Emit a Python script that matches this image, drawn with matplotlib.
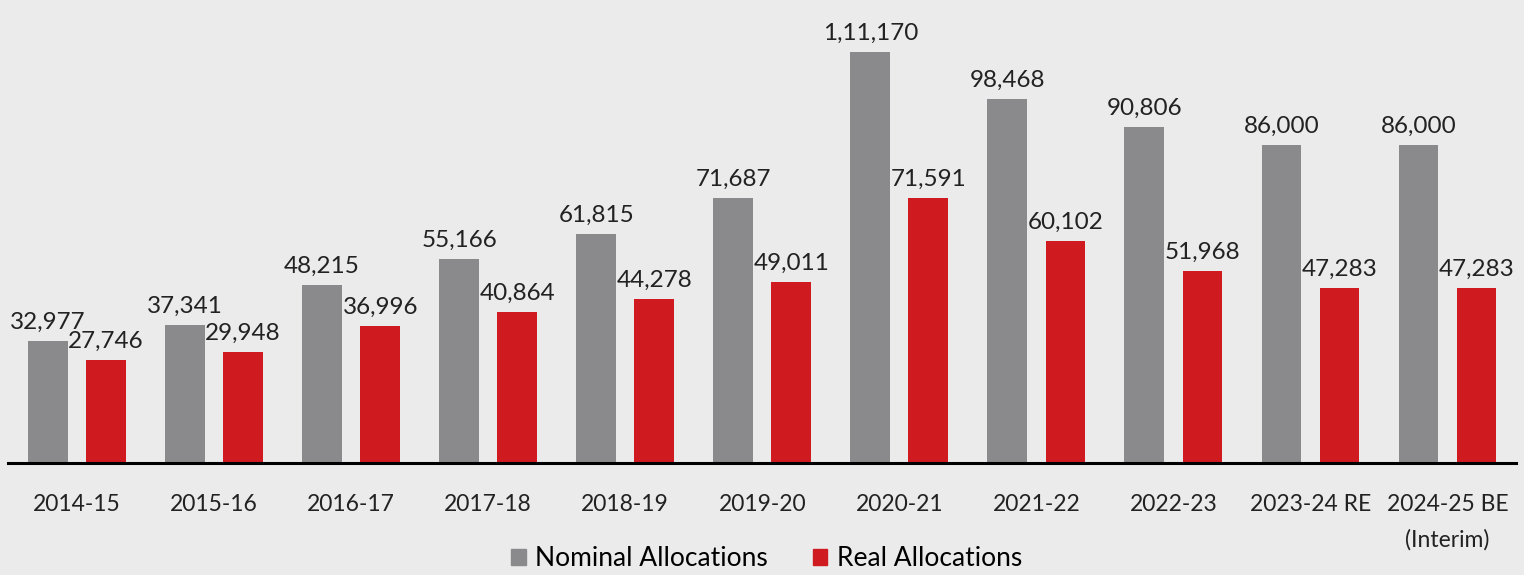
import numpy as np
import matplotlib
matplotlib.use("Agg")
import matplotlib.pyplot as plt
from matplotlib.patches import Patch

years = ["2014-15", "2015-16", "2016-17", "2017-18", "2018-19", "2019-20",
         "2020-21", "2021-22", "2022-23", "2023-24 RE", "2024-25 BE\n(Interim)"]
nominal = [32977, 37341, 48215, 55166, 61815, 71687, 111170, 98468, 90806, 86000, 86000]
real = [27746, 29948, 36996, 40864, 44278, 49011, 71591, 60102, 51968, 47283, 47283]

GRAY = "#8a8a8c"
RED = "#cf1a20"
BG = "#ebebeb"


def indian_fmt(v):
    s = str(int(v))
    if len(s) <= 3:
        return s
    head, tail = s[:-3], s[-3:]
    parts = []
    while len(head) > 2:
        parts.insert(0, head[-2:])
        head = head[:-2]
    if head:
        parts.insert(0, head)
    return ",".join(parts) + "," + tail


plt.rcParams['font.family'] = ['Lato', 'DejaVu Sans']

fig = plt.figure(figsize=(15.24, 5.75), dpi=100, facecolor=BG)
ax = fig.add_axes([8 / 1524, 1 - 463 / 575, 1508 / 1524, 463 / 575])
ax.set_facecolor(BG)

x = np.arange(len(years))
w = 0.29
off = 0.212
b1 = ax.bar(x - off, nominal, w, color=GRAY)
b2 = ax.bar(x + off, real, w, color=RED)

for bars, vals in ((b1, nominal), (b2, real)):
    for b, v in zip(bars, vals):
        ax.annotate(indian_fmt(v), (b.get_x() + b.get_width() / 2, v),
                    xytext=(0, 6), textcoords="offset points",
                    ha="center", va="bottom", fontsize=17.5, color="#222222")

ax.set_xlim(-0.504, 10.5)
ax.set_ylim(0, 125240)
ax.set_xticks(x)
ax.set_xticklabels(years, fontsize=16.5, color="#222222", linespacing=1.85)
ax.tick_params(axis="x", length=0, pad=22)
ax.set_yticks([])
for side in ("top", "right", "left"):
    ax.spines[side].set_visible(False)
ax.spines["bottom"].set_linewidth(2.2)
ax.spines["bottom"].set_color("black")

handles = [Patch(color=GRAY, label="Nominal Allocations"),
           Patch(color=RED, label="Real Allocations")]
fig.legend(handles=handles, loc="lower center", ncol=2, frameon=False,
           fontsize=19, bbox_to_anchor=(0.503, -0.035), handlelength=0.55,
           handleheight=0.55, handletextpad=0.35, columnspacing=1.7)

fig.savefig("out.png", dpi=100, facecolor=BG)
